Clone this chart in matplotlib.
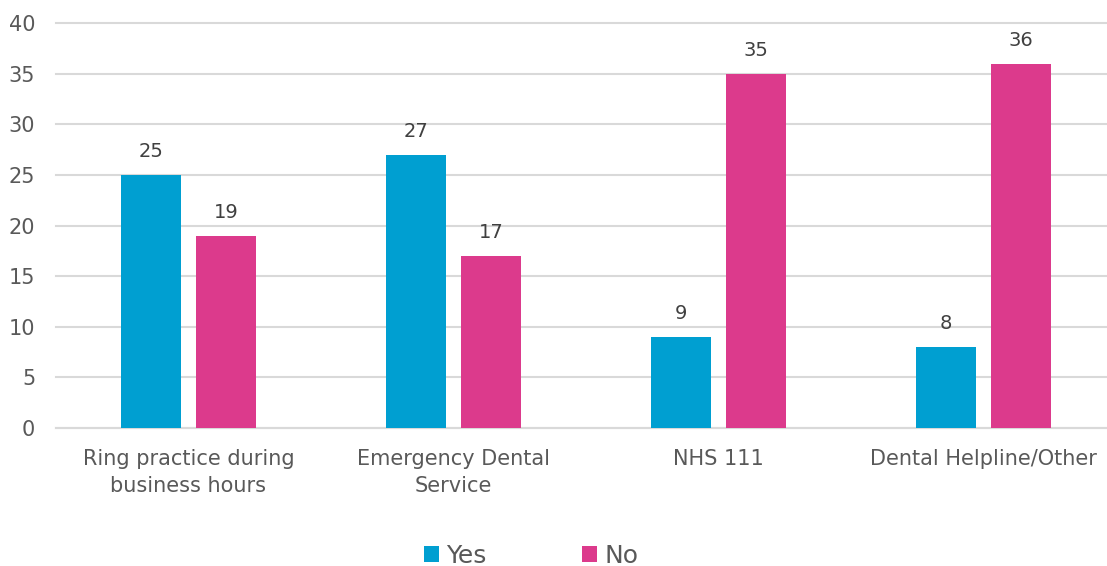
import numpy as np
import matplotlib.pyplot as plt

plt.rcParams['font.family'] = ['DejaVu Sans']

categories = ['Ring practice during\nbusiness hours', 'Emergency Dental\nService', 'NHS 111', 'Dental Helpline/Other']
yes_vals = [25, 27, 9, 8]
no_vals = [19, 17, 35, 36]

blue = '#009FD1'
pink = '#DC3A8C'
grey = '#595959'

fig = plt.figure(figsize=(11.07, 5.66), dpi=100)
ax = fig.add_axes([56/1107, 138/566, 1060/1107, 405/566])

x = np.arange(len(categories))
w = 0.223
off = 0.1415
b1 = ax.bar(x - off, yes_vals, w, color=blue, label='Yes', zorder=3)
b2 = ax.bar(x + off, no_vals, w, color=pink, label='No', zorder=3)

for bars in (b1, b2):
    for r in bars:
        ax.annotate(str(int(r.get_height())), (r.get_x() + r.get_width()/2, r.get_height()),
                    xytext=(0, 14), textcoords='offset pixels', ha='center', va='bottom',
                    fontsize=14, color='#404040')

ax.set_xlim(-0.5, 3.5)
ax.set_ylim(0, 40)
ax.set_yticks(range(0, 41, 5))
ax.yaxis.grid(True, color='#D9D9D9', linewidth=1.5, zorder=0)
for gl in ax.get_ygridlines():
    gl.set_clip_on(False)
ax.set_axisbelow(True)
for s in ['top', 'right', 'left']:
    ax.spines[s].set_visible(False)
ax.spines['bottom'].set_color('#D9D9D9')
ax.spines['bottom'].set_linewidth(1.5)
ax.tick_params(axis='both', length=0, labelsize=15, colors=grey)
ax.tick_params(axis='y', pad=15)
ax.tick_params(axis='x', pad=15)
ax.set_xticks(x)
ax.set_xticklabels(categories, linespacing=1.45)

fig.legend(handles=[b1, b2], labels=['Yes', 'No'], loc='center', bbox_to_anchor=(531/1107, 1 - 556/566),
           ncol=2, frameon=False, fontsize=18, labelcolor=grey, handlelength=0.6, handleheight=0.6,
           handletextpad=0.3, columnspacing=3.8)

fig.savefig('out.png', dpi=100)
